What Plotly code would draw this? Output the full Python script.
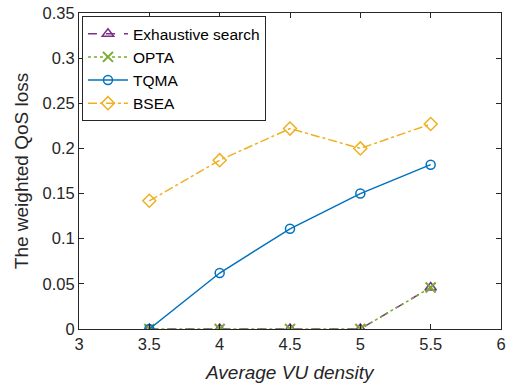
import plotly.graph_objects as go

x_vals = [3.5, 4, 4.5, 5, 5.5]
exhaustive = [0, 0, 0, 0, 0.046]
opta = [0, 0, 0, 0, 0.046]
tqma = [0, 0.062, 0.111, 0.150, 0.182]
bsea = [0.142, 0.187, 0.222, 0.200, 0.227]

x_ticks = [3, 3.5, 4, 4.5, 5, 5.5, 6]
y_ticks = [0, 0.05, 0.1, 0.15, 0.2, 0.25, 0.3, 0.35]
y_labels = ["0", "0.05", "0.1", "0.15", "0.2", "0.25", "0.3", "0.35"]

FONT = "Liberation Sans, Arial"

fig = go.Figure()
fig.add_trace(go.Scatter(x=x_vals, y=exhaustive, name="Exhaustive search", mode="lines+markers",
                         line=dict(color="#7E2F8E", width=1.5, dash="dash"),
                         marker=dict(symbol="triangle-up-open", size=10, color="#7E2F8E", line=dict(width=1.5))))
fig.add_trace(go.Scatter(x=x_vals, y=opta, name="OPTA", mode="lines+markers",
                         line=dict(color="#77AC30", width=1.5, dash="dot"),
                         marker=dict(symbol="x-thin-open", size=10, color="#77AC30", line=dict(width=2, color="#77AC30"))))
fig.add_trace(go.Scatter(x=x_vals, y=tqma, name="TQMA", mode="lines+markers",
                         line=dict(color="#0072BD", width=1.5),
                         marker=dict(symbol="circle-open", size=9, color="#0072BD", line=dict(width=1.5))))
fig.add_trace(go.Scatter(x=x_vals, y=bsea, name="BSEA", mode="lines+markers",
                         line=dict(color="#EDB120", width=1.5, dash="dashdot"),
                         marker=dict(symbol="diamond-open", size=10, color="#EDB120", line=dict(width=1.5))))

axis_common = dict(showgrid=False, zeroline=False, showline=True, linecolor="#262626", linewidth=1,
                   mirror="ticks", ticks="inside", ticklen=5, tickcolor="#262626", automargin=False,
                   tickfont=dict(family=FONT, size=16.5, color="#262626"))

fig.update_xaxes(range=[3, 6], tickvals=x_ticks, ticktext=[str(v) for v in x_ticks], **axis_common)
fig.update_yaxes(range=[0, 0.35], tickvals=y_ticks, ticktext=y_labels, **axis_common)

fig.add_annotation(text="<i>Average VU density</i>", xref="paper", yref="paper", x=0.5, y=-0.138,
                   xanchor="center", yanchor="middle", showarrow=False,
                   font=dict(family=FONT, size=19, color="#262626"))
fig.add_annotation(text="The weighted QoS loss", xref="paper", yref="paper", x=-0.137, y=0.5,
                   xanchor="center", yanchor="middle", showarrow=False, textangle=-90,
                   font=dict(family=FONT, size=19, color="#262626"))

fig.update_layout(
    width=514, height=387,
    margin=dict(l=79, r=13, t=13, b=58),
    paper_bgcolor="white", plot_bgcolor="white",
    legend=dict(x=0.007, y=0.99, xanchor="left", yanchor="top",
                bordercolor="#262626", borderwidth=1, bgcolor="white",
                font=dict(family=FONT, size=15.5, color="black"),
                tracegroupgap=0, itemwidth=40),
)

fig.write_html("out.html", config={"displayModeBar": False},
               post_script="document.body.style.margin='0';document.body.style.overflow='hidden';")
